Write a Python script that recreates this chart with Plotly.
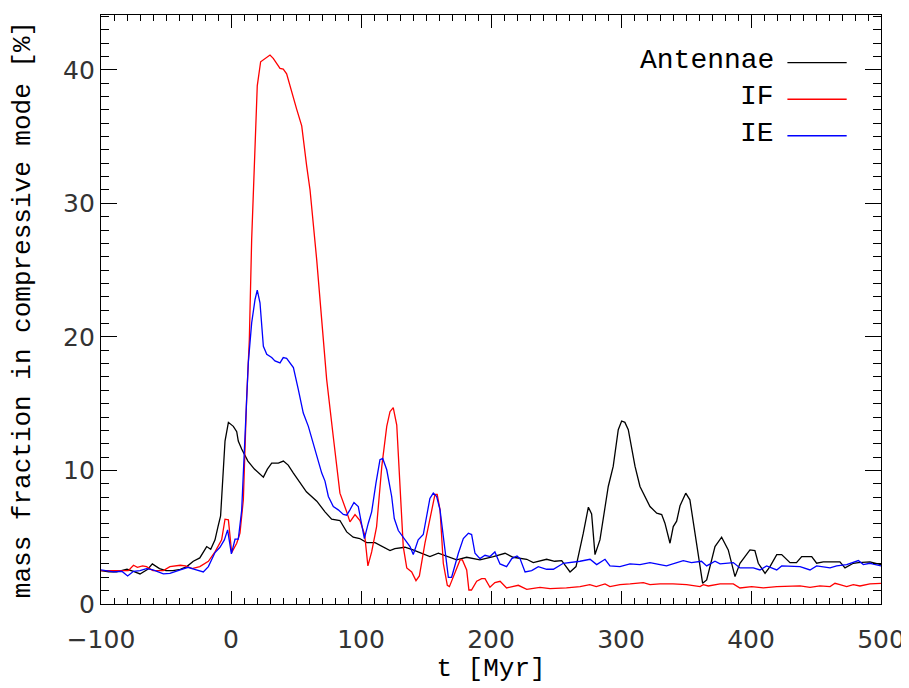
import plotly.graph_objects as go

# ---- data ----
t_antennae = [-100, -94, -88, -80, -75, -70, -64, -60.5, -55, -50, -44.6, -39, -34, -29, -24,
              -18.7, -15.6, -12.3, -10, -8, -4.6, -2, 1.8, 4.4, 5.6, 8.2, 13, 18, 24.9, 28,
              31.3, 36.4, 40.3, 44, 48, 53, 58, 66, 72.3, 77.4, 83.8, 89, 94, 99, 104.4,
              110.8, 114.6, 122.3, 126, 133.8, 140, 146.7, 153, 159.5, 166, 173.6, 181.3,
              191.5, 201.8, 210.8, 217, 227.5, 232.5, 242.8, 249, 254.4, 260.8, 265.4, 271,
              274.9, 277.4, 280, 283.8, 290.2, 294, 297.9, 300.5, 303, 305.6, 310.8, 314.6,
              322.3, 327.5, 331.3, 333.8, 337.7, 340.2, 342.8, 345.4, 349.8, 353, 358.2,
              362.8, 365.9, 372.3, 377.4, 382.5, 387.7, 391.5, 399.2, 403, 405.6, 410.8,
              414.6, 419.8, 423.6, 430, 435, 439, 446.7, 450.5, 455.6, 463.3, 468.4, 472.3,
              478.7, 482.6, 491.5, 500]
antennae = [2.5, 2.4, 2.4, 2.6, 2.45, 2.25, 2.6, 3.0, 2.65, 2.5, 2.5, 2.6, 2.8, 3.2, 3.45,
            4.3, 4.1, 4.8, 5.8, 6.6, 12.2, 13.6, 13.3, 12.9, 12.2, 11.6, 10.7, 10.1, 9.5, 10.1,
            10.55, 10.55, 10.7, 10.4, 9.8, 9.05, 8.4, 7.7, 6.9, 6.35, 6.25, 5.4, 5.0, 4.9, 4.6,
            4.6, 4.4, 4.0, 4.15, 4.25, 4.05, 3.8, 3.55, 3.8, 3.55, 3.3, 3.5,
            3.3, 3.55, 3.8, 3.5, 3.35, 3.1, 3.35, 3.2, 3.25, 2.4, 2.8, 5.3,
            7.25, 6.75, 3.7, 4.8, 8.8, 10.3, 13.05, 13.7, 13.6, 13.05, 10.3, 8.8,
            7.3, 6.8, 6.7, 6.05, 4.55, 5.8, 6.2, 7.35, 8.3, 7.8, 4.3,
            1.55, 1.8, 4.3, 5.0, 4.05, 2.05, 3.05, 4.05, 4.0, 3.05, 2.3,
            2.8, 3.7, 3.7, 3.1, 3.1, 3.55, 3.55, 3.05, 3.15, 3.15, 3.15, 2.7,
            3.05, 3.1, 3.15, 2.95]

t_if = [-100, -88, -79, -75, -72, -68, -65, -60, -52, -47, -39, -35, -30, -24, -17.4, -12.3,
        -7.2, -4.6, -2, 0.5, 4.4, 6.9, 9.5, 12, 14.1, 15.9, 18.5, 20.2, 22.8, 30, 32.5, 37.7,
        40.2, 42.8, 50.5, 54.4, 58.2, 60.8, 65.9, 71, 73.6, 78.7, 83.8, 89, 91.5, 95.4, 99.2,
        102.8, 105.3, 108.2, 112, 116, 119.8, 122.3, 124.8, 127.5, 132.5, 135.2, 139, 142.3,
        144.9, 149.2, 153, 156.9, 158.6, 160.8, 163.3, 166.4, 168, 172.3, 176.2, 178, 181.3,
        183, 185, 189, 192.8, 195.4, 199.2, 203, 207, 212, 221, 227.5, 237.7, 245.4, 258,
        268.5, 276, 281, 287.7, 291.5, 299.2, 307, 317.2, 322.3, 330, 340, 350.5, 360.8,
        363.3, 367.2, 376.2, 386.4, 391.5, 400.5, 409.5, 419.8, 430, 437.7, 445.4, 453,
        460.8, 464.6, 468.4, 473.6, 478.7, 483.8, 491.5, 500]
if_vals = [2.5, 2.5, 2.5, 2.9, 2.75, 2.85, 2.8, 2.5, 2.5, 2.8, 2.9, 2.85, 2.65, 2.8, 3.2, 3.9,
           4.8, 6.35, 6.3, 3.85, 4.55, 5.3, 7.8, 15.3, 19.8, 27.3, 34.8, 38.8, 40.6, 41.1, 40.85,
           40.1, 40.05, 39.7, 37.05, 35.8, 32.8, 31.0, 25.8, 19.8, 16.8, 12.5, 8.3, 6.9, 6.15,
           6.7, 6.25, 5.2, 2.85, 3.9, 5.8, 10.3, 13.3, 14.4, 14.7, 13.4, 4.3, 2.7, 2.4, 1.75,
           2.1, 4.55, 6.3, 8.2, 8.2, 7.05, 3.05, 1.4, 1.3, 2.4, 3.3, 3.3, 2.55,
           1.05, 1.05, 1.7, 1.9, 1.9, 1.25, 1.6, 1.7, 1.2, 1.4, 1.1, 1.25, 1.15, 1.2,
           1.3, 1.45, 1.3, 1.5, 1.3, 1.45, 1.5, 1.6, 1.45, 1.5, 1.5, 1.45, 1.3,
           1.45, 1.35, 1.5, 1.5, 1.2, 1.3, 1.2, 1.3, 1.3, 1.35, 1.25, 1.35,
           1.3, 1.55, 1.45, 1.3, 1.45, 1.35, 1.5, 1.55]

t_ie = [-100, -90.5, -84, -79.5, -75, -70, -65, -60, -52, -47, -39, -33, -28, -24, -21.3, -17.4,
        -12.3, -8.5, -5.1, -2.6, 0.3, 3.1, 5.6, 8.2, 10.8, 13.3, 15.9, 18.5, 20.2, 22.3, 24.9,
        27.5, 31.3, 33.8, 37.7, 40.2, 42.8, 48, 51.8, 55.6, 59.5, 64.6, 69.8, 72.3, 74.9, 78.7,
        82.5, 86.4, 89, 91.5, 94.6, 97.9, 102.6, 105.6, 108.2, 111.5, 114.6, 116.7, 119.8,
        123.6, 125.6, 128.7, 133.8, 137.7, 140.2, 144, 147.9, 153, 155.6, 158.2, 160.8, 164.6,
        167.2, 169.7, 174.9, 178.7, 182.6, 185.1, 187.7, 191.5, 195.4, 199.2, 203, 206.9, 212,
        216, 220, 222.3, 226.2, 231.3, 236.4, 242.8, 248, 255.6, 260.8, 268.5, 276.2, 281.3,
        287.7, 291.5, 299.2, 306.9, 314.6, 322.3, 330, 335, 347.9, 354.2, 361.9, 365.9, 372.3,
        376.2, 386.4, 391.5, 401.8, 406.9, 412, 419.8, 423.6, 432.6, 437.7, 445.4, 450.5,
        460.8, 465.9, 473.6, 482.6, 486.4, 491.5, 500]
ie_vals = [2.55, 2.4, 2.45, 2.1, 2.45, 2.5, 2.65, 2.55, 2.25, 2.3, 2.55, 2.75, 2.6, 2.5, 2.4, 2.8,
           3.85, 4.25, 4.8, 5.55, 3.75, 4.85, 4.85, 7.0, 13.05, 18.05, 21.05, 22.8, 23.5, 22.55,
           19.3, 18.7, 18.45, 18.2, 18.05, 18.45, 18.4, 17.7, 16.05, 14.3, 13.3, 11.55, 9.8, 9.2,
           8.05, 7.3, 7.05, 6.7, 6.65, 7.05, 7.6, 7.3, 4.9, 6.05, 6.9, 9.05, 10.8, 10.9, 10.05,
           8.05, 6.4, 5.5, 4.8, 4.3, 3.7, 4.8, 5.2, 7.9, 8.3, 8.05, 7.05, 4.05,
           2.0, 2.0, 3.8, 4.9, 5.3, 5.2, 3.8, 3.4, 3.65, 3.55, 3.9, 3.0, 2.8,
           3.4, 3.6, 3.4, 2.4, 2.5, 2.8, 2.6, 2.6, 3.05, 3.1, 3.2, 3.35, 2.95,
           3.35, 2.85, 2.8, 3.0, 2.95, 3.1, 2.95, 2.85, 3.25, 3.1, 3.2, 2.85, 3.2,
           3.0, 3.1, 2.7, 2.7, 2.55, 2.85, 2.55, 2.85, 2.8, 2.8, 2.55, 2.85,
           2.7, 2.85, 2.95, 3.25, 2.95, 3.05, 2.85]

series_names = ["Antennae", "IF", "IE"]
series_colors = ["#000000", "#ff0000", "#0000ff"]
x_tickvals = [-100, 0, 100, 200, 300, 400, 500]
x_ticktext = ["\u2212100", "0", "100", "200", "300", "400", "500"]
y_tickvals = [0, 10, 20, 30, 40]

MONO = "Liberation Mono, Courier New, monospace"
SANS = "DejaVu Sans ExtraLight, DejaVu Sans, sans-serif"

fig = go.Figure()
for name, tt, vv, col in zip(series_names, [t_antennae, t_if, t_ie],
                             [antennae, if_vals, ie_vals], series_colors):
    fig.add_trace(go.Scatter(x=tt, y=vv, mode="lines", name=name,
                             line=dict(color=col, width=1.3), showlegend=False))

# manual legend: text on the left, line sample on the right (as in the reference)
leg_y = [0.919, 0.857, 0.795]
for name, col, yy in zip(series_names, series_colors, leg_y):
    fig.add_annotation(xref="paper", yref="paper", x=0.866, y=yy + 0.004, text=name,
                       showarrow=False, xanchor="right", yanchor="middle",
                       font=dict(family=MONO, size=28, color="black"))
    fig.add_shape(type="line", xref="paper", yref="paper", x0=0.880, x1=0.956,
                  y0=yy, y1=yy, line=dict(color=col, width=1.3))

axis_common = dict(showline=True, linecolor="black", linewidth=1.3, mirror="allticks",
                   ticks="inside", tickcolor="black", tickwidth=1, showgrid=False,
                   zeroline=False, automargin=False,
                   tickfont=dict(family=SANS, size=25, color="#333"))

fig.update_xaxes(range=[-100, 500], tickvals=x_tickvals, ticktext=x_ticktext, ticklen=13,
                 minor=dict(ticks="inside", dtick=10, ticklen=6, tickcolor="black",
                            tickwidth=1, showgrid=False),
                 ticklabelstandoff=13,
                 title=dict(text="t [Myr]", font=dict(family=MONO, size=26, color="black"),
                            standoff=2),
                 **axis_common)
fig.update_yaxes(range=[0, 44.1], tickvals=y_tickvals, ticklen=16, ticksuffix="\u00a0",
                 minor=dict(ticks="inside", dtick=1, ticklen=8, tickcolor="black",
                            tickwidth=1, showgrid=False),
                 title=dict(text="mass fraction in compressive mode [%]",
                            font=dict(family=MONO, size=26, color="black"), standoff=26),
                 **axis_common)

# the page body adds an 8px offset, so the figure is sized to fit the window
fig.update_layout(width=901, height=680, plot_bgcolor="white", paper_bgcolor="white",
                  margin=dict(l=93, r=28, t=7, b=84))

fig.write_html("out.html")
